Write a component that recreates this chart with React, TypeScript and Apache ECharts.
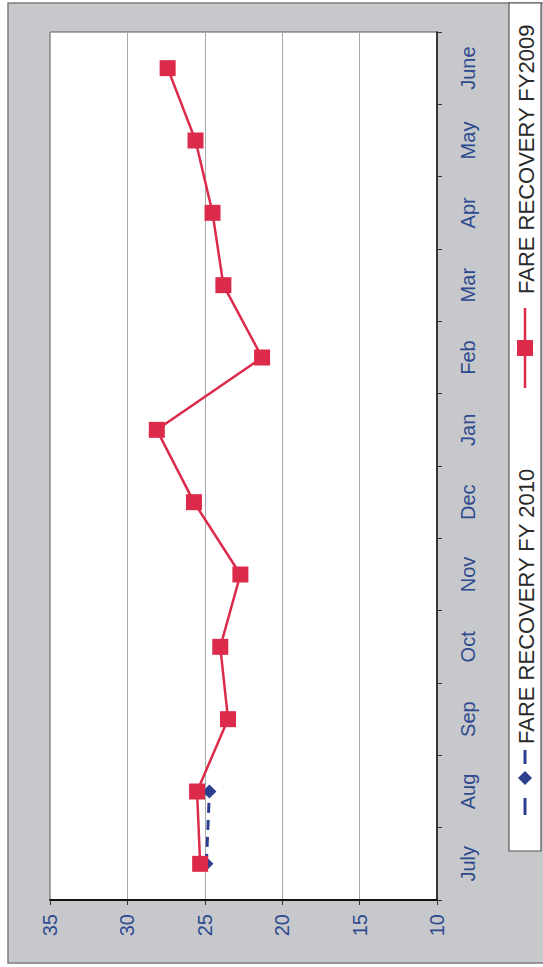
import React, { useEffect, useRef } from "react";
import * as echarts from "echarts";

// Monthly fare recovery (%), fiscal year starting in July
const months = ["July", "Aug", "Sep", "Oct", "Nov", "Dec", "Jan", "Feb", "Mar", "Apr", "May", "June"];
const fy2009 = [25.3, 25.5, 23.5, 24.0, 22.7, 25.7, 28.1, 21.3, 23.8, 24.5, 25.6, 27.4];
const fy2010: (number | null)[] = [24.9, 24.7, null, null, null, null, null, null, null, null, null, null];
const valueMin = 10;
const valueMax = 35;
const valueStep = 5;

const seriesNames = ["FARE RECOVERY FY 2010", "FARE RECOVERY FY2009"];

const RED = "#dc2a4b";
const BLUE = "#2b3f8e";
const LABEL_BLUE = "#2d4a8f";

export default function App() {
  const ref = useRef<HTMLDivElement>(null);

  useEffect(() => {
    if (!ref.current) return;
    const chart = echarts.init(ref.current, null, { renderer: "svg" });

    const legendX = 525;

    chart.setOption({
      animation: false,
      backgroundColor: "#ffffff",
      textStyle: { fontFamily: "Liberation Sans, Arial, sans-serif" },
      grid: {
        left: 50,
        right: 106,
        top: 32,
        bottom: 67,
        show: true,
        backgroundColor: "#ffffff",
        borderColor: "#5a5a5a",
        borderWidth: 1,
      },
      xAxis: {
        type: "value",
        inverse: true,
        min: valueMin,
        max: valueMax,
        interval: valueStep,
        axisLine: { show: true, lineStyle: { color: "#111", width: 2 } },
        axisTick: { show: true, length: 5, lineStyle: { color: "#333" } },
        axisLabel: {
          rotate: 90,
          margin: 14,
          color: LABEL_BLUE,
          fontSize: 20,
          fontFamily: "Liberation Sans, Arial, sans-serif",
        },
        splitLine: { show: true, lineStyle: { color: "#a8a8a8", width: 1 } },
      },
      yAxis: {
        type: "category",
        position: "right",
        data: months,
        boundaryGap: true,
        axisLine: { show: true, lineStyle: { color: "#111", width: 1.5 } },
        axisTick: { show: true, length: 5, lineStyle: { color: "#333" } },
        axisLabel: {
          rotate: 90,
          margin: 21,
          color: LABEL_BLUE,
          fontSize: 20,
          fontFamily: "Liberation Sans, Arial, sans-serif",
        },
        splitLine: { show: false },
      },
      series: [
        {
          name: seriesNames[0],
          type: "line",
          data: fy2010,
          connectNulls: false,
          symbol: "diamond",
          symbolSize: 14,
          itemStyle: { color: BLUE },
          lineStyle: { color: BLUE, width: 3, type: [10, 7] },
          z: 3,
        },
        {
          name: seriesNames[1],
          type: "line",
          data: fy2009,
          symbol: "rect",
          symbolSize: 16,
          itemStyle: { color: RED },
          lineStyle: { color: RED, width: 2.5 },
          z: 4,
        },
      ],
      graphic: [
        // grey chart panel
        {
          type: "rect",
          z: -10,
          shape: { x: 8, y: 3, width: 545, height: 960 },
          style: { fill: "#c7c8cb", stroke: "#7d7d7d", lineWidth: 1.5 },
        },
        // legend box
        {
          type: "rect",
          z: 10,
          shape: { x: 509, y: 3, width: 32, height: 848 },
          style: { fill: "#ffffff", stroke: "#555555", lineWidth: 1.2 },
        },
        // FY 2010 legend key: dash, diamond, dash
        {
          type: "line",
          z: 11,
          shape: { x1: legendX, y1: 798, x2: legendX, y2: 815 },
          style: { stroke: BLUE, lineWidth: 3 },
        },
        {
          type: "polygon",
          z: 11,
          shape: {
            points: [
              [legendX, 771],
              [legendX + 7, 778],
              [legendX, 785],
              [legendX - 7, 778],
            ],
          },
          style: { fill: BLUE },
        },
        {
          type: "line",
          z: 11,
          shape: { x1: legendX, y1: 750, x2: legendX, y2: 764 },
          style: { stroke: BLUE, lineWidth: 3 },
        },
        {
          type: "text",
          z: 11,
          x: legendX + 1,
          y: 744,
          rotation: Math.PI / 2,
          style: {
            text: seriesNames[0],
            fill: "#2a2a2a",
            fontSize: 22,
            fontFamily: "Liberation Sans, Arial, sans-serif",
            align: "left",
            verticalAlign: "middle",
          },
        },
        // FY2009 legend key: line with square
        {
          type: "line",
          z: 11,
          shape: { x1: legendX, y1: 308, x2: legendX, y2: 388 },
          style: { stroke: RED, lineWidth: 2.5 },
        },
        {
          type: "rect",
          z: 12,
          shape: { x: legendX - 8, y: 340, width: 16, height: 16 },
          style: { fill: RED },
        },
        {
          type: "text",
          z: 11,
          x: legendX + 1,
          y: 294,
          rotation: Math.PI / 2,
          style: {
            text: seriesNames[1],
            fill: "#2a2a2a",
            fontSize: 22,
            fontFamily: "Liberation Sans, Arial, sans-serif",
            align: "left",
            verticalAlign: "middle",
          },
        },
      ],
    });

    return () => chart.dispose();
  }, []);

  return (
    <div
      ref={ref}
      style={{ position: "absolute", left: 0, top: 0, width: 543, height: 967 }}
    />
  );
}
